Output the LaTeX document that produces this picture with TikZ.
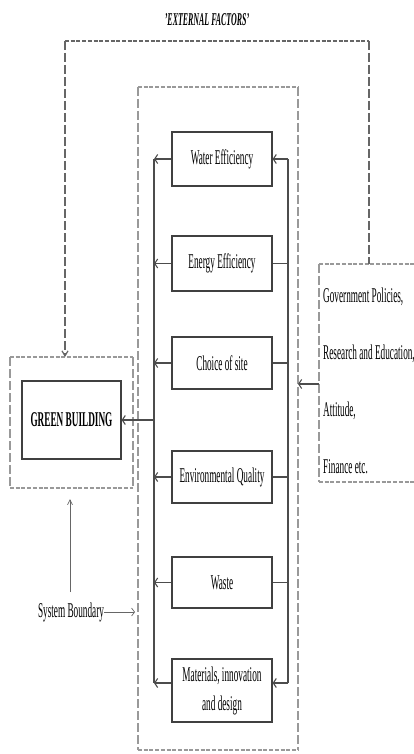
\documentclass[tikz,border=0pt]{standalone}
\usepackage{fontspec}
\setmainfont{Liberation Serif}[FakeStretch=0.44]
\usetikzlibrary{arrows.meta}
\begin{document}
\begin{tikzpicture}[x=1pt,y=-1pt,
  box/.style={draw=black!75, line width=1.3pt, minimum width=100pt, inner sep=0pt,
    font=\fontsize{21}{29}\selectfont, align=center},
  lbl/.style={inner sep=0pt, font=\fontsize{21}{22}\selectfont},
  conn/.style={draw=black!70, line width=1.1pt},
  harr/.style={conn, -{Straight Barb[length=3pt,width=9pt]}},
  hdash/.style={draw=black!40, line width=1.2pt, dash pattern=on 4pt off 1.7pt},
  vdash/.style={draw=black!40, line width=1.2pt, dash pattern=on 9pt off 3pt},
  ohdash/.style={draw=black!60, line width=1.2pt, dash pattern=on 4pt off 1.7pt},
  ovdash/.style={draw=black!60, line width=1.2pt, dash pattern=on 9pt off 3pt},
]
\useasboundingbox (0,0) rectangle (414,754);
\fill[white] (0,0) rectangle (414,754);

% title
\node[inner sep=0pt, font=\fontsize{18}{19}\selectfont\bfseries\itshape] (title) at (207,20) {'EXTERNAL FACTORS'};

% coordinates
\coordinate (L) at (154,0);
\coordinate (R) at (288,0);

% system boundary (inner dashed box)
\draw[hdash] (138,87) -- (298,87);
\draw[hdash] (138,750) -- (298,750);
\draw[vdash] (138,87) -- (138,750);
\draw[vdash] (298,87) -- (298,750);

% boxes
\node[box, minimum height=54pt] (water) at (222,159) {Water Efficiency};
\node[box, minimum height=55pt] (energy) at (222,263.5) {Energy Efficiency};
\node[box, minimum height=52pt] (site) at (222,363) {Choice of site};
\node[box, minimum height=52pt] (env) at (222,477) {Environmental Quality};
\node[box, minimum height=51pt] (waste) at (222,582.5) {Waste};
\node[box, minimum height=63pt] (mat) at (222,690.5) {Materials, innovation\\and design};

% left collector
\draw[conn] (water.west -| L) -- ([yshift=7.5pt]mat.west -| L);
\foreach \n in {water,energy,site,env,waste}
  \draw[harr] (\n.west) -- (\n.west -| L);
\draw[harr] ([yshift=7.5pt]mat.west) -- ([yshift=7.5pt]mat.west -| L);

% right distributor
\draw[conn] (water.east -| R) -- ([yshift=7.5pt]mat.east -| R);
\draw[harr] (water.east -| R) -- (water.east);
\foreach \n in {energy,site,env,waste}
  \draw[conn] (\n.east) -- (\n.east -| R);
\draw[harr] ([yshift=7.5pt]mat.east -| R) -- ([yshift=7.5pt]mat.east);

% green building
\draw[hdash] (10,357) -- (133,357);
\draw[hdash] (10,488) -- (133,488);
\draw[vdash] (10,357) -- (10,488);
\draw[vdash] (133,357) -- (133,488);
\node[box, minimum width=99pt, minimum height=78pt, font=\fontsize{21}{22}\selectfont\bfseries] (gb) at (71.5,420) {GREEN BUILDING};
\draw[harr] (gb.east -| L) -- (gb.east);

% external factors box
\coordinate (F) at (319,384);
\coordinate (Fb) at (298,384);
\draw[hdash] (319,264) -- (414,264);
\draw[hdash] (319,482) -- (414,482);
\draw[vdash] (319,264) -- (319,482);
\node[lbl, anchor=west] (f1) at (323,297) {Government Policies,};
\node[lbl, anchor=west] (f2) at (323,354) {Research and Education,};
\node[lbl, anchor=west] (f3) at (323,411) {Attitude,};
\node[lbl, anchor=west] (f4) at (323,467) {Finance etc.};
\draw[harr] (F) -- (Fb);

% outer feedback path
\coordinate (O1) at (65,41);
\coordinate (O2) at (369,41);
\coordinate (O3) at (369,264);
\coordinate (GBt) at (65,357);
\draw[ohdash] (O1) -- (O2);
\draw[ovdash] (O2) -- (O3);
\draw[ovdash, -{Straight Barb[length=5pt,width=6pt]}] (O1) -- (GBt);

% system boundary label
\node[lbl] (sb) at (71,612) {System Boundary};
\coordinate (sbt) at (135,612);
\coordinate (up0) at (70,592);
\coordinate (up1) at (70,499);
\draw[draw=black!60, line width=0.7pt, -{Straight Barb[length=3pt,width=8pt]}] (sb.east) -- (sbt);
\draw[draw=black!60, line width=0.7pt, -{Straight Barb[length=5pt,width=5pt]}] (up0) -- (up1);
\end{tikzpicture}
\end{document}
